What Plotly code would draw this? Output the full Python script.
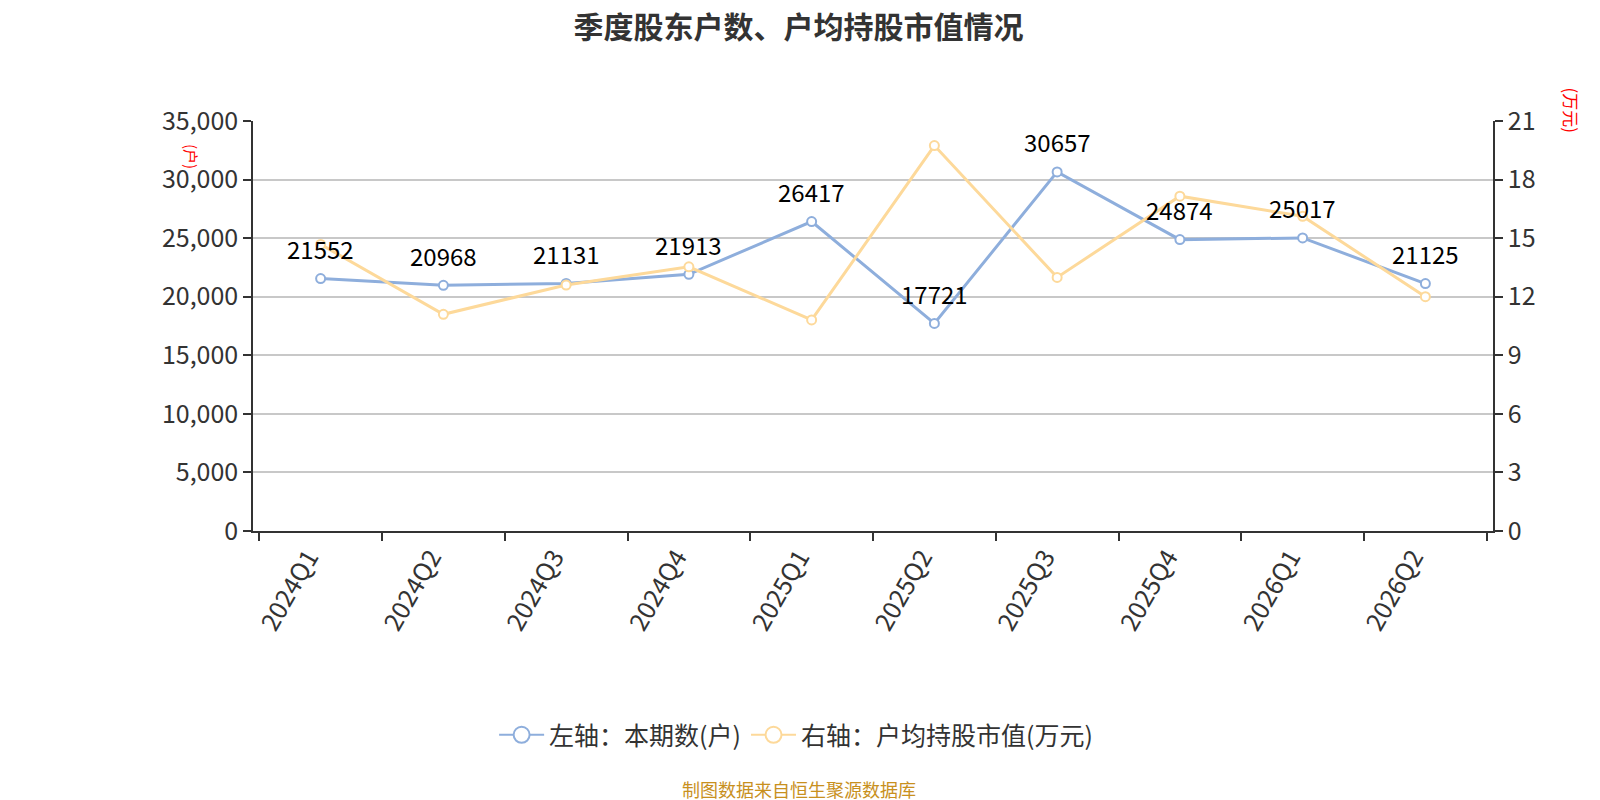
import plotly.graph_objects as go

quarters = ["2024Q1", "2024Q2", "2024Q3", "2024Q4", "2025Q1",
            "2025Q2", "2025Q3", "2025Q4", "2026Q1", "2026Q2"]
holders = [21552, 20968, 21131, 21913, 26417, 17721, 30657, 24874, 25017, 21125]   # 本期数(户)
avg_value = [14.68, 11.10, 12.60, 13.53, 10.81, 19.74, 12.99, 17.15, 16.12, 12.00]  # 户均持股市值(万元)

blue = "#8eaedc"
yellow = "#fdd99a"
font = "Noto Sans CJK SC"
name_left = "左轴：本期数(户)"
name_right = "右轴：户均持股市值(万元)"

fig = go.Figure()

fig.add_trace(go.Scatter(
    x=quarters, y=avg_value, name=name_right, yaxis="y2",
    mode="lines+markers", showlegend=False,
    line=dict(color=yellow, width=3),
    marker=dict(symbol="circle", size=9, color="white", line=dict(color=yellow, width=2)),
    cliponaxis=False,
))

fig.add_trace(go.Scatter(
    x=quarters, y=holders, name=name_left,
    mode="lines+markers", showlegend=False,
    line=dict(color=blue, width=3),
    marker=dict(symbol="circle", size=9, color="white", line=dict(color=blue, width=2)),
    cliponaxis=False,
))

# 数值标签（离点远一点）
for q, v in zip(quarters, holders):
    fig.add_annotation(x=q, y=v, text=str(v), showarrow=False, yshift=30,
                       font=dict(size=24, color="#000"))

# 图例用的空trace（图例圆圈大一点）
for nm, c in [(name_left, blue), (name_right, yellow)]:
    fig.add_trace(go.Scatter(
        x=[None], y=[None], name=nm, mode="lines+markers",
        line=dict(color=c, width=2),
        marker=dict(symbol="circle", size=16, color="white", line=dict(color=c, width=2)),
    ))

axis_common = dict(ticks="outside", ticklen=8, tickcolor="#333", tickwidth=1.5,
                   showline=True, linecolor="#333", linewidth=1.5,
                   tickfont=dict(size=25, color="#333"))

# 页面body有8px边距, 所以边距整体往左上挪8px
fig.update_layout(
    width=1600, height=800,
    margin=dict(l=245, r=115, t=113, b=277),
    plot_bgcolor="white", paper_bgcolor="white",
    font=dict(family=font, size=24, color="#333"),
    title=dict(text="<b>季度股东户数、户均持股市值情况</b>", x=0.494, xanchor="center",
               y=0.976, yanchor="middle", font=dict(size=30, color="#333")),
    xaxis=dict(type="category", tickangle=-60, tickson="boundaries",
               ticklabelshift=-12, showgrid=False, **axis_common),
    yaxis=dict(range=[0, 35000], dtick=5000, tickformat=",",
               gridcolor="#c8c8c8", gridwidth=1.5, zeroline=False, **axis_common),
    yaxis2=dict(range=[0, 21], dtick=3, overlaying="y", side="right",
                showgrid=False, zeroline=False, **axis_common),
    legend=dict(orientation="h", x=0.438, xanchor="center", y=-0.4976, yanchor="middle",
                itemwidth=45, font=dict(size=25, color="#333")),
    showlegend=True,
)

fig.add_annotation(text="(户)", xref="paper", yref="paper", x=-0.0597, y=0.949,
                   textangle=90, showarrow=False, font=dict(size=15, color="red"))
fig.add_annotation(text="(万元)", xref="paper", yref="paper", x=1.075, y=1.088,
                   textangle=90, showarrow=False, font=dict(size=17, color="red"))
fig.add_annotation(text="制图数据来自恒生聚源数据库", xref="paper", yref="paper",
                   x=0.44, y=-0.629, xanchor="center", yanchor="middle",
                   showarrow=False, font=dict(size=18, color="#c8901e"))

fig.write_html("out.html")
